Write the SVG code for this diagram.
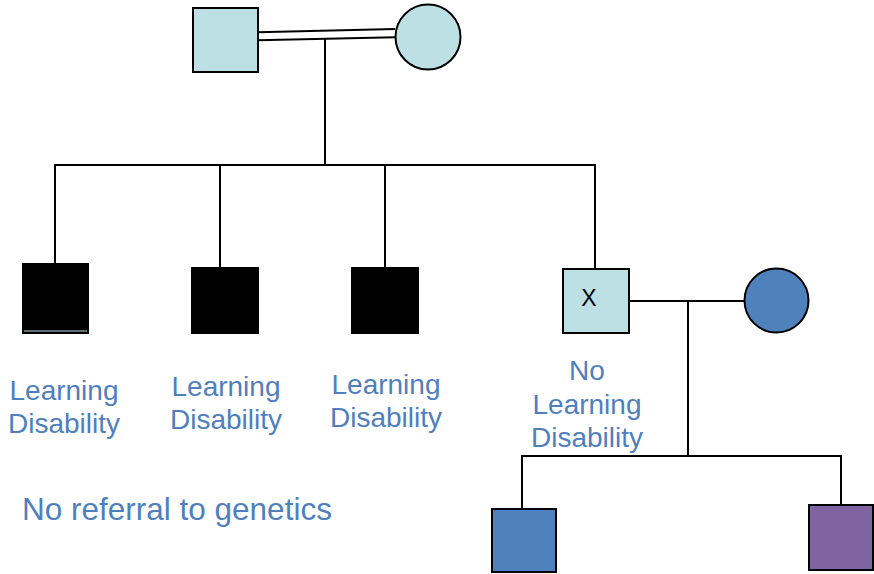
<svg xmlns="http://www.w3.org/2000/svg" width="874" height="574" viewBox="0 0 874 574">
  <style>
    .line { stroke: #000; stroke-width: 2; fill: none; }
    .shape { stroke: #000; stroke-width: 2; }
    .unaffected { fill: #bce0e3; }
    .affected { fill: #000; }
    .blue { fill: #4f81bd; }
    .purple { fill: #8064a2; }
    .label { font-family: "Liberation Sans", Arial, sans-serif; font-size: 28px; fill: #4f7fbe; text-anchor: middle; }
    .note { font-family: "Liberation Sans", Arial, sans-serif; font-size: 31.5px; fill: #4f7fbe; }
    .mark { font-family: "Liberation Sans", Arial, sans-serif; font-size: 23px; fill: #000; text-anchor: middle; }
  </style>

  <!-- connectors -->
  <g id="connectors">
    <!-- consanguineous marriage: double line -->
    <line class="line" x1="258" y1="32.3" x2="395" y2="29"/>
    <line class="line" x1="258" y1="40.3" x2="395" y2="37.3"/>
    <line class="line" x1="325" y1="39" x2="325" y2="165"/>
    <!-- sibship line -->
    <line class="line" x1="54" y1="165" x2="596" y2="165"/>
    <line class="line" x1="55" y1="165" x2="55" y2="264"/>
    <line class="line" x1="220" y1="165" x2="220" y2="268"/>
    <line class="line" x1="385" y1="165" x2="385" y2="268"/>
    <line class="line" x1="595" y1="165" x2="595" y2="269"/>
    <!-- second marriage -->
    <line class="line" x1="629" y1="301" x2="745" y2="301"/>
    <line class="line" x1="688" y1="301" x2="688" y2="456"/>
    <line class="line" x1="521" y1="456" x2="842" y2="456"/>
    <line class="line" x1="522" y1="456" x2="522" y2="509"/>
    <line class="line" x1="841" y1="456" x2="841" y2="505"/>
  </g>

  <!-- generation I -->
  <g id="father">
    <rect class="shape unaffected" x="193" y="8" width="65" height="64"/>
  </g>
  <g id="mother">
    <circle class="shape unaffected" cx="428" cy="37" r="32.5"/>
  </g>

  <!-- generation II -->
  <g id="son1">
    <rect class="shape affected" x="23" y="264" width="65" height="69"/>
    <line x1="24" y1="331" x2="87" y2="331" stroke="#bce0e3" stroke-width="1.2"/>
    <text class="label" x="64" y="400">Learning</text>
    <text class="label" x="64" y="433">Disability</text>
  </g>
  <g id="son2">
    <rect class="shape affected" x="192" y="268" width="66" height="65"/>
    <text class="label" x="226" y="396">Learning</text>
    <text class="label" x="226" y="429">Disability</text>
  </g>
  <g id="son3">
    <rect class="shape affected" x="352" y="268" width="66" height="65"/>
    <text class="label" x="386" y="393.5">Learning</text>
    <text class="label" x="386" y="426.5">Disability</text>
  </g>
  <g id="son4">
    <rect class="shape unaffected" x="563" y="269" width="66" height="64"/>
    <text class="mark" x="589" y="306">X</text>
    <text class="label" x="587" y="380">No</text>
    <text class="label" x="587" y="413.5">Learning</text>
    <text class="label" x="587" y="447">Disability</text>
  </g>
  <g id="spouse">
    <circle class="shape blue" cx="776.5" cy="300.5" r="32"/>
  </g>

  <!-- generation III -->
  <g id="grandchild1">
    <rect class="shape blue" x="492" y="509" width="64" height="63"/>
  </g>
  <g id="grandchild2">
    <rect class="shape purple" x="809" y="505" width="64" height="65"/>
  </g>

  <g id="note">
    <text class="note" x="22" y="519.5">No referral to genetics</text>
  </g>
</svg>
